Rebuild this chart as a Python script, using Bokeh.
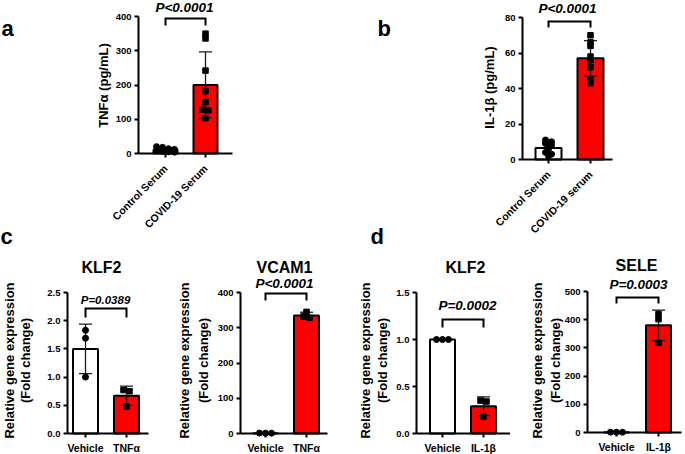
import math
from bokeh.plotting import figure
from bokeh.models import Range1d, Label, FixedTicker, NumeralTickFormatter
from bokeh.layouts import row, column
from bokeh.embed import file_html
from bokeh.resources import INLINE

# ---------------- data ----------------
a_groups = ["Control Serum", "COVID-19 Serum"]
a_control = [20, 14, 18, 12, 9, 7, 5, 4]
a_covid = [350, 336, 242, 182, 150, 128, 126, 103]
a_mean = [11, 200]
a_sd = [6, 97]
a_ticks = [0, 100, 200, 300, 400]

b_groups = ["Control Serum", "COVID-19 serum"]
b_control = [11, 10, 9, 8, 6, 4, 3, 2]
b_covid = [70, 66, 64, 58, 56, 52, 45, 43]
b_mean = [6.5, 57]
b_sd = [3, 10]
b_ticks = [0, 20, 40, 60, 80]

c_groups = ["Vehicle", "TNFα"]
c_klf2_vehicle = [1.83, 1.69, 1.0]
c_klf2_tnf = [0.77, 0.75, 0.48]
c_klf2_mean = [1.5, 0.67]
c_klf2_sd = [0.44, 0.17]
c_klf2_ticks = [0, 0.5, 1.0, 1.5, 2.0, 2.5]

c_vcam1_vehicle = [1.2, 0.9, 1.0]
c_vcam1_tnf = [345, 332, 328]
c_vcam1_mean = [1.0, 335]
c_vcam1_sd = [0.15, 9]
c_vcam1_ticks = [0, 100, 200, 300, 400]

d_groups = ["Vehicle", "IL-1β"]
d_klf2_vehicle = [1.0, 1.0, 1.0]
d_klf2_il1b = [0.35, 0.34, 0.18]
d_klf2_mean = [1.0, 0.29]
d_klf2_sd = [0.0, 0.1]
d_klf2_ticks = [0, 0.5, 1.0, 1.5]

d_sele_vehicle = [1.0, 1.2, 0.9]
d_sele_il1b = [420, 402, 318]
d_sele_mean = [1.0, 380]
d_sele_sd = [0.2, 54]
d_sele_ticks = [0, 100, 200, 300, 400, 500]

p_values = ["P<0.0001", "P<0.0001", "P=0.0389", "P<0.0001", "P=0.0002", "P=0.0003"]

# ---------------- layout helpers ----------------
SX = 1.0
SY = 1.0
FONT = "Liberation Sans"
BAR_COLORS = ["white", "#FF0000"]
MARKERS = ["circle", "square"]
SPLIT = 251   # boundary between top and bottom rows (reference pixels)


def swarm(vals, ppu_y, step, thresh):
    order = sorted(range(len(vals)), key=lambda i: -vals[i])
    groups = []
    for i in order:
        ypx = vals[i] * ppu_y
        if groups and abs(groups[-1][0] - ypx) < thresh:
            groups[-1][1].append(i)
        else:
            groups.append((ypx, [i]))
    offs = [0.0] * len(vals)
    for _, idx in groups:
        n = len(idx)
        for k, i in enumerate(idx):
            offs[i] = (k - (n - 1) / 2) * step
    return offs


def make_panel(spec):
    box = spec["box"]
    ox, oy = round(box[0] * SX), round(box[1] * SY)
    W = round(box[2] * SX) - ox
    H = round(box[3] * SY) - oy
    lx = lambda x: x * SX - ox
    ly = lambda y: y * SY - oy
    fl, fr, fb, ft = spec["frame"]
    L = lx(fl); R = lx(fr); B = ly(fb); T = ly(ft)
    ymax = spec["ymax"]
    k = ymax / (B - T)          # data units per pixel (y)
    c1, c2 = lx(spec["centers"][0]), lx(spec["centers"][1])
    s = c2 - c1                 # pixels per data unit (x)
    dx = lambda px: 1 + (px - c1) / s
    dy = lambda py: (B - py) * k

    p = figure(width=W, height=H, x_range=Range1d(dx(0), dx(W)), y_range=Range1d(dy(H), dy(0)),
               output_backend="svg", toolbar_location=None, title=None,
               min_border_left=0, min_border_right=0, min_border_top=0, min_border_bottom=0)
    p.outline_line_color = None
    p.background_fill_color = "white"
    p.border_fill_color = "white"
    p.xgrid.visible = False
    p.ygrid.visible = False

    for ax in (p.xaxis[0], p.yaxis[0]):
        ax.axis_line_width = 2
        ax.axis_line_color = "black"
        ax.major_tick_line_width = 2
        ax.major_tick_line_color = "black"
        ax.major_tick_out = 4
        ax.major_tick_in = 0
        ax.minor_tick_line_color = None
        ax.major_label_text_font = FONT
        ax.major_label_text_font_style = "bold"
        ax.major_label_text_color = "black"
    p.yaxis.fixed_location = dx(L)
    p.xaxis.fixed_location = 0
    p.yaxis.ticker = FixedTicker(ticks=spec["ticks"])
    p.yaxis.bounds = (0, ymax)
    p.xaxis.bounds = (dx(L), dx(R))
    p.yaxis.formatter = NumeralTickFormatter(format=spec["fmt"])
    p.yaxis.major_label_text_font_size = "9.5px"
    p.yaxis.major_label_standoff = 3
    p.xaxis.ticker = FixedTicker(ticks=[1, 2])
    p.xaxis.major_label_overrides = {1: spec["groups"][0], 2: spec["groups"][1]}
    if spec.get("rotate"):
        p.xaxis.major_label_orientation = math.pi / 4
        p.xaxis.major_label_text_font_size = "10.5px"
        p.xaxis.major_label_standoff = 9
    else:
        p.xaxis.major_label_text_font_size = "10.5px"
        p.xaxis.major_label_standoff = 4

    bw = spec["barw"] * SX / s
    means, sds, pts = spec["mean"], spec["sd"], spec["pts"]
    xs = [1, 2]
    p.vbar(x=xs, top=means, bottom=0, width=bw, fill_color=BAR_COLORS,
           line_color="black", line_width=2)
    cap = 6.5 * SX / s
    for gi in range(2):
        if sds[gi] > 0:
            lo, hi = means[gi] - sds[gi], means[gi] + sds[gi]
            xg = xs[gi]
            p.segment(x0=[xg, xg - cap, xg - cap], y0=[lo, lo, hi],
                      x1=[xg, xg + cap, xg + cap], y1=[hi, lo, hi],
                      line_color="#1a1a1a", line_width=1.3)
    for gi in range(2):
        offs = swarm(pts[gi], 1 / k, 6 * SX, 3.5)
        p.scatter(x=[xs[gi] + o / s for o in offs], y=pts[gi], marker=MARKERS[gi],
                  size=6 if gi == 0 else 5.5, fill_color="black", line_color="black")

    # significance bracket
    bt, bl = spec["bracket"]
    ytop, yleg = dy(ly(bt)), dy(ly(bl))
    p.line(x=[1, 1, 2, 2], y=[yleg, ytop, ytop, yleg], line_color="black", line_width=2,
           line_join="miter")

    def add_text(text, px, py, size, style="bold", align="center", baseline="middle", angle=0):
        p.add_layout(Label(x=dx(lx(px)), y=dy(ly(py)), text=text, text_font=FONT,
                           text_font_style=style, text_font_size=size, text_color="black",
                           text_align=align, text_baseline=baseline, angle=angle))

    add_text(spec["ptext"], spec["ppos"][0], spec["ppos"][1], spec["psize"], style="bold italic")
    for t, xx in zip(spec["ytitles"], spec["ytx"]):
        add_text(t, xx, spec["yty"], "13px", angle=math.pi / 2)
    if spec.get("title"):
        add_text(spec["title"], spec["tpos"][0], spec["tpos"][1], "16px")
    for (letter, lxp, lyp) in spec.get("letters", []):
        add_text(letter, lxp, lyp, "22px", align="left", baseline="alphabetic")
    return p


specs = [
    dict(box=(0, 0, 330, SPLIT), frame=(138, 232, 153, 16), ymax=400, ticks=a_ticks, fmt="0",
         centers=(165, 205), barw=24, groups=a_groups, pts=[a_control, a_covid],
         mean=a_mean, sd=a_sd, rotate=True, ptext=p_values[0], ppos=(184, 7), psize="13.5px",
         bracket=(18, 25), ytitles=["TNFα (pg/mL)"], ytx=[103], yty=85,
         letters=[("a", 1, 28), ("c", 0, 236)]),
    dict(box=(330, 0, 685, SPLIT), frame=(522, 612, 159, 17), ymax=80, ticks=b_ticks, fmt="0",
         centers=(548, 590), barw=26, groups=b_groups, pts=[b_control, b_covid],
         mean=b_mean, sd=b_sd, rotate=True, ptext=p_values[1], ppos=(567, 8), psize="13.5px",
         bracket=(21, 27), ytitles=["IL-1β (pg/mL)"], ytx=[489], yty=87,
         letters=[("b", 377, 28), ("d", 370, 236)]),
    dict(box=(0, SPLIT, 165, 454), frame=(67, 148, 433, 292), ymax=2.5, ticks=c_klf2_ticks,
         fmt="0.0", centers=(85, 126), barw=25, groups=c_groups,
         pts=[c_klf2_vehicle, c_klf2_tnf], mean=c_klf2_mean, sd=c_klf2_sd,
         ptext=p_values[2], ppos=(105, 299), psize="11.5px", bracket=(308, 317),
         ytitles=["Relative gene expression", "(Fold change)"], ytx=[9, 25], yty=360,
         title="KLF2", tpos=(101, 267)),
    dict(box=(165, SPLIT, 340, 454), frame=(240, 327, 433, 292), ymax=400, ticks=c_vcam1_ticks,
         fmt="0", centers=(265, 306), barw=25, groups=c_groups,
         pts=[c_vcam1_vehicle, c_vcam1_tnf], mean=c_vcam1_mean, sd=c_vcam1_sd,
         ptext=p_values[3], ppos=(284, 283), psize="13.5px", bracket=(293, 300),
         ytitles=["Relative gene expression", "(Fold change)"], ytx=[184, 203], yty=360,
         title="VCAM1", tpos=(284, 267)),
    dict(box=(340, SPLIT, 510, 454), frame=(416, 512, 433, 292), ymax=1.5, ticks=d_klf2_ticks,
         fmt="0.0", centers=(442, 483), barw=25, groups=d_groups,
         pts=[d_klf2_vehicle, d_klf2_il1b], mean=d_klf2_mean, sd=d_klf2_sd,
         ptext=p_values[4], ppos=(467, 305), psize="13.5px", bracket=(319, 327),
         ytitles=["Relative gene expression", "(Fold change)"], ytx=[365, 382], yty=360,
         title="KLF2", tpos=(465, 267)),
    dict(box=(510, SPLIT, 685, 454), frame=(587, 681, 432, 291), ymax=500, ticks=d_sele_ticks,
         fmt="0", centers=(616, 658), barw=25, groups=d_groups,
         pts=[d_sele_vehicle, d_sele_il1b], mean=d_sele_mean, sd=d_sele_sd,
         ptext=p_values[5], ppos=(638, 284), psize="13.5px", bracket=(297, 303),
         ytitles=["Relative gene expression", "(Fold change)"], ytx=[537, 555], yty=360,
         title="SELE", tpos=(636, 265)),
]

panels = [make_panel(sp) for sp in specs]
layout = column(row(panels[0], panels[1]), row(*panels[2:]))

open("out.html", "w").write(file_html(layout, INLINE))
